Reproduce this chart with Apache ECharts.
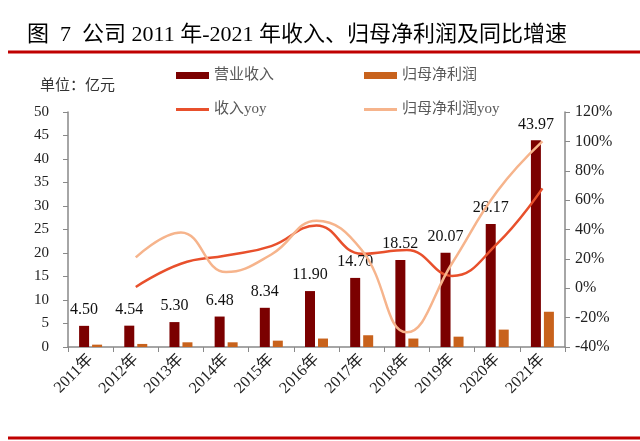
<!DOCTYPE html>
<html>
<head>
<meta charset="utf-8">
<script src="https://cdn.jsdelivr.net/npm/echarts@6/dist/echarts.min.js"></script>
<style>
html,body{margin:0;padding:0;background:#fff;}
#chart{width:640px;height:441px;}
</style>
</head>
<body>
<div id="chart"></div>
<script>
const categories = ['2011年','2012年','2013年','2014年','2015年','2016年','2017年','2018年','2019年','2020年','2021年'];
const revenue = [4.50, 4.54, 5.30, 6.48, 8.34, 11.90, 14.70, 18.52, 20.07, 26.17, 43.97];
const netProfit = [0.5, 0.65, 1.0, 1.0, 1.35, 1.8, 2.5, 1.8, 2.2, 3.7, 7.5];
const revenueYoy = [null, 0.9, 16.7, 22.3, 28.7, 42.7, 23.5, 26.0, 8.4, 30.4, 68.0];
const profitYoy = [null, 21, 38, 11, 23, 46, 26, -30, 17, 66, 100];
const leftTicks = {min: 0, max: 50, interval: 5};
const rightTicks = {min: -40, max: 120, interval: 20};

const FONT = "'Liberation Serif', 'Noto Sans CJK SC', serif";
const chart = echarts.init(document.getElementById('chart'));
const legendText = {color: '#595959', fontSize: 15, fontFamily: FONT};

chart.setOption({
  backgroundColor: '#fff',
  animation: false,
  textStyle: {fontFamily: FONT},
  title: [
    {text: '图  7  公司 2011 年-2021 年收入、归母净利润及同比增速', left: 22, top: 19,
     textStyle: {fontSize: 22, fontWeight: 'normal', color: '#000', fontFamily: FONT}},
    {text: '单位：亿元', left: 35, top: 74,
     textStyle: {fontSize: 15, fontWeight: 'normal', color: '#333', fontFamily: FONT}}
  ],
  graphic: [
    {type: 'line', shape: {x1: 8, y1: 52, x2: 640, y2: 52}, style: {stroke: '#C00000', lineWidth: 3}},
    {type: 'line', shape: {x1: 8, y1: 438, x2: 640, y2: 438}, style: {stroke: '#C00000', lineWidth: 3}}
  ],
  legend: [
    {data: ['营业收入'], left: 171, top: 63, itemWidth: 33, itemHeight: 7, itemGap: 4, textStyle: legendText, icon: 'rect'},
    {data: ['归母净利润'], left: 359, top: 63, itemWidth: 33, itemHeight: 7, itemGap: 4, textStyle: legendText, icon: 'rect'},
    {data: ['收入yoy'], left: 171, top: 97, itemWidth: 33, itemHeight: 3, itemGap: 4, textStyle: legendText, icon: 'rect'},
    {data: ['归母净利润yoy'], left: 359, top: 97, itemWidth: 33, itemHeight: 3, itemGap: 4, textStyle: legendText, icon: 'rect'}
  ],
  grid: {left: 68, right: 75, top: 112, bottom: 94, containLabel: false},
  xAxis: {
    type: 'category', data: categories,
    axisLine: {lineStyle: {color: '#898989', width: 1.5}},
    axisTick: {show: true, length: 5, lineStyle: {color: '#898989'}},
    axisLabel: {rotate: 45, fontSize: 16, color: '#222', margin: 10, fontFamily: FONT, interval: 0}
  },
  yAxis: [
    {type: 'value', min: leftTicks.min, max: leftTicks.max, interval: leftTicks.interval,
     splitLine: {show: false},
     axisLine: {show: true, lineStyle: {color: '#898989', width: 1.5}},
     axisTick: {show: true, length: 5, lineStyle: {color: '#898989'}},
     axisLabel: {fontSize: 15, color: '#222', margin: 19, fontFamily: FONT}},
    {type: 'value', min: rightTicks.min, max: rightTicks.max, interval: rightTicks.interval,
     splitLine: {show: false},
     axisLine: {show: true, lineStyle: {color: '#898989', width: 1.5}},
     axisTick: {show: true, length: 5, lineStyle: {color: '#898989'}},
     axisLabel: {fontSize: 16, color: '#222', margin: 10, fontFamily: FONT, formatter: '{value}%'}}
  ],
  series: [
    {name: '营业收入', type: 'bar', data: revenue, barWidth: 10, barGap: '30%',
     itemStyle: {color: '#7B0000'},
     label: {show: true, position: 'top', distance: 8, fontSize: 16, color: '#111', fontFamily: FONT,
             formatter: p => p.value.toFixed(2)}},
    {name: '归母净利润', type: 'bar', data: netProfit, barWidth: 10, barGap: '30%',
     itemStyle: {color: '#C8621C'}},
    {name: '收入yoy', type: 'line', yAxisIndex: 1, data: revenueYoy, smooth: 0.45, symbol: 'none',
     lineStyle: {color: '#E8502C', width: 2.5}, itemStyle: {color: '#E8502C'}, z: 3},
    {name: '归母净利润yoy', type: 'line', yAxisIndex: 1, data: profitYoy, smooth: 0.45, symbol: 'none',
     lineStyle: {color: '#F6B48C', width: 2.5}, itemStyle: {color: '#F6B48C'}, z: 3}
  ]
});
</script>
</body>
</html>
